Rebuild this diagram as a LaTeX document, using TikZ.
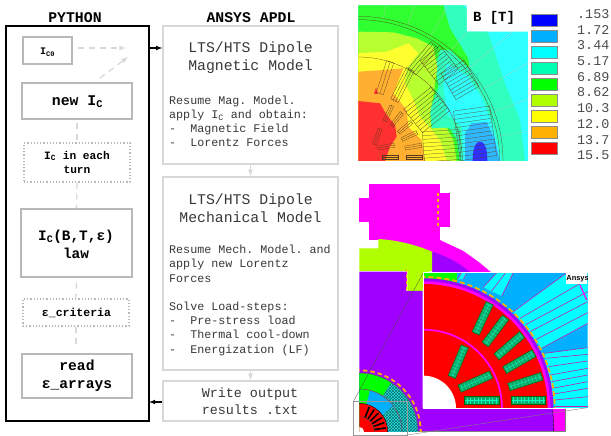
\documentclass[tikz,border=0pt]{standalone}
\usepackage{fontspec}
\setmainfont{Liberation Mono}
\newfontfamily\logofont{Liberation Sans}
\frenchspacing
\usetikzlibrary{patterns}
\definecolor{pybox}{HTML}{B8B8B8}
\definecolor{apdlbox}{HTML}{D8D8D8}
\definecolor{apdltext}{HTML}{383838}
\definecolor{bblue}{HTML}{3030FF}
\definecolor{bsky}{HTML}{30B8FF}
\definecolor{bcyan}{HTML}{30FFFF}
\definecolor{bteal}{HTML}{30FFC0}
\definecolor{bgreen}{HTML}{30FF30}
\definecolor{blime}{HTML}{B8FF30}
\definecolor{byellow}{HTML}{FFFF30}
\definecolor{borange}{HTML}{FFB030}
\definecolor{bred}{HTML}{FF3030}
\definecolor{keyblue}{HTML}{0000FF}
\definecolor{keycyan}{HTML}{00FFFF}
\definecolor{keyteal}{HTML}{00FFB0}
\definecolor{keygreen}{HTML}{00FF00}
\definecolor{keyyellow}{HTML}{FFFF00}
\definecolor{keyred}{HTML}{FF0000}
\definecolor{feapurple}{HTML}{A000FF}
\definecolor{feamagenta}{HTML}{FF00FF}
\definecolor{fealime}{HTML}{B0FF00}
\definecolor{feasky}{HTML}{00B0FF}
\definecolor{feadash}{HTML}{FFB000}
\definecolor{feastrand}{HTML}{C020B0}
\definecolor{feacoil}{HTML}{10A868}
\definecolor{feamesh}{HTML}{30E0E0}
\definecolor{feamline}{HTML}{007070}
\tikzset{
  sizedfont/.style={font=\fontsize{#1}{#1}\selectfont},
  pystep/.style={draw=pybox,line width=1.5pt,fill=white,inner sep=0pt},
  pydot/.style={draw=pybox,line width=1.2pt,dotted,fill=white,inner sep=0pt},
  pytext/.style={align=center,inner sep=0pt,text=black},
  apdlstep/.style={draw=apdlbox,line width=1.5pt,fill=white,inner sep=0pt},
  flowdash/.style={draw=apdlbox,line width=1.3pt,dash pattern=on 6pt off 5pt},
  flowlink/.style={draw=apdlbox,line width=1.3pt,-latex},
  flowmain/.style={draw=black,line width=1.1pt,-latex},
  fieldline/.style={draw=black!55!brown,line width=0.25pt},
  coilgrid/.style={draw=keycyan!75!green,line width=0.35pt},
  legendbox/.style={draw=black!45,line width=0.8pt,minimum width=26pt,minimum height=12pt,inner sep=0pt},
  legendtext/.style={sizedfont=13.4,text=black!70,anchor=west,inner sep=0pt},
}
\begin{document}
\begin{tikzpicture}[x=1pt,y=-1pt]
\useasboundingbox (0,0) rectangle (611,436);

% python column
\node[font=\fontsize{14.8}{15}\selectfont\bfseries,inner sep=0pt] (pytitle) at (75,18) {PYTHON};
\node[draw=black,line width=1.5pt,minimum width=143pt,minimum height=395pt,inner sep=0pt] (pyframe) at (77.5,223.5) {};
\node[pystep,minimum width=49pt,minimum height=27pt] (icbox) at (47.5,50.5) {};
\node[pytext,font=\fontsize{10}{10}\selectfont\bfseries] (ictext) at (47.5,52) {I\textsubscript{C0}};
\node[pystep,minimum width=110pt,minimum height=36pt] (newbox) at (77,101) {};
\node[pytext,font=\fontsize{14.8}{15}\selectfont\bfseries] (newtext) at (77.5,102) {new I\textsubscript{C}};
\node[pydot,minimum width=106pt,minimum height=39pt] (turnbox) at (77,162.5) {};
\node[pytext,font=\fontsize{11.2}{14}\selectfont\bfseries] (turntext) at (77,162) {I\textsubscript{C} in each\\turn};
\node[pystep,minimum width=111pt,minimum height=68pt] (lawbox) at (76.5,243) {};
\node[pytext,font=\fontsize{14.4}{18}\selectfont\bfseries] (lawtext) at (76,244) {I\textsubscript{C}(B,T,ε)\\law};
\node[pydot,minimum width=106pt,minimum height=27pt] (critbox) at (76,312.5) {};
\node[pytext,font=\fontsize{11.5}{12}\selectfont\bfseries] (crittext) at (76.5,313) {ε\_criteria};
\node[pystep,minimum width=110pt,minimum height=44pt] (readbox) at (77,376) {};
\node[pytext,font=\fontsize{14.6}{18}\selectfont\bfseries] (readtext) at (77,376) {read\\ε\_arrays};

\coordinate (freeone) at (126,48);
\coordinate (freetwo) at (128,57);
\coordinate (newtop) at (100,78);
\draw[flowdash,-latex] (icbox.east |- freeone) ++(5,0) -- (freeone);
\draw[flowdash,-latex] (newtop) -- (freetwo);
\draw[flowdash] (newbox.south) ++(0,3) -- (turnbox.north);
\draw[flowdash] (turnbox.south) -- (lawbox.north);
\draw[flowdash] (lawbox.south) ++(0,5) -- (critbox.north);
\draw[flowdash] (critbox.south) -- ++(0,22);

% ansys column
\node[font=\fontsize{14.8}{15}\selectfont\bfseries,inner sep=0pt] (apdltitle) at (251,18) {ANSYS APDL};
\node[apdlstep,minimum width=175pt,minimum height=138pt] (magbox) at (250.5,95) {};
\node[apdlstep,minimum width=175pt,minimum height=193pt] (mechbox) at (250.5,273.5) {};
\node[apdlstep,minimum width=175pt,minimum height=40pt] (outbox) at (250.5,401) {};
\node[font=\fontsize{14.8}{18}\selectfont,align=center,text=apdltext,inner sep=0pt] (magtitle) at (250.5,58) {LTS/HTS Dipole\\Magnetic Model};
\node[font=\fontsize{11.7}{14}\selectfont,align=left,text=apdltext,inner sep=0pt,anchor=north west] (magbody) at (169,96) {Resume Mag. Model.\\apply I\textsubscript{C} and obtain:\\-\ \ Magnetic Field\\-\ \ Lorentz Forces};
\node[font=\fontsize{14.8}{18}\selectfont,align=center,text=apdltext,inner sep=0pt] (mechtitle) at (250.5,208) {LTS/HTS Dipole\\Mechanical Model};
\node[font=\fontsize{11.7}{14.2}\selectfont,align=left,text=apdltext,inner sep=0pt,anchor=north west] (mechbody) at (169,245) {Resume Mech. Model. and\\apply new Lorentz\\Forces\\[14.2pt]Solve Load-steps:\\-\ \ Pre-stress load\\-\ \ Thermal cool-down\\-\ \ Energization (LF)};
\node[font=\fontsize{13.4}{17}\selectfont,align=center,text=apdltext,inner sep=0pt] (outtext) at (250,401.5) {Write output\\results .txt};

\coordinate (pyout) at (149,48);
\coordinate (pyin) at (149,402);
\draw[flowmain] (pyout) -- (magbox.west |- pyout);
\draw[flowmain] (outbox.west |- pyin) -- (pyin);
\draw[flowlink] (magbox.south) -- (mechbox.north);
\draw[flowlink] (mechbox.south) -- (outbox.north);

% field map
\begin{scope}[shift={(350,0)},scale=1/3]
  \clip (25,16) -- (350,16) -- (350,95) -- (535,95) -- (535,483) -- (25,483) -- cycle;
  \fill[bcyan] (25,16) rectangle (535,483);
  \fill[bteal] (25,16) -- (340,16) -- (415,100) -- (465,250) -- (510,360) -- (525,483) -- (25,483) -- cycle;
  \fill[bgreen] (25,16) -- (280,16) -- (300,85) -- (355,175) -- (358,205) -- (300,150) -- (270,150) -- (255,200) -- (265,260) -- (240,330) -- (245,385) -- (300,385) -- (320,420) -- (330,483) -- (25,483) -- cycle;
  \fill[bteal] (300,165) -- (355,215) -- (405,290) -- (440,400) -- (470,483) -- (330,483) -- (325,400) -- (270,350) -- (285,250) -- cycle;
  \fill[bcyan] (290,190) -- (350,225) -- (395,290) -- (430,380) -- (455,483) -- (340,483) -- (335,380) -- (290,340) -- (280,260) -- cycle;
  \fill[bsky] (365,370) -- (410,365) -- (435,420) -- (450,483) -- (345,483) -- (345,400) -- cycle;
  \fill[bblue] (368,483) .. controls (368,440) and (378,425) .. (390,425) .. controls (402,425) and (412,440) .. (412,483) -- cycle;
  \fill[blime] (25,95) -- (130,97) -- (200,115) -- (250,140) -- (262,200) -- (250,290) -- (240,340) -- (245,385) -- (290,383) -- (310,420) -- (320,483) -- (25,483) -- cycle;
  \fill[byellow] (25,160) -- (110,155) -- (175,130) -- (205,160) -- (170,205) -- (165,250) -- (190,300) -- (210,350) -- (240,385) -- (270,420) -- (290,483) -- (25,483) -- cycle;
  \fill[blime] (180,220) -- (225,240) -- (250,275) -- (215,290) -- (180,270) -- cycle;
  \fill[borange] (25,215) -- (100,210) -- (160,205) -- (130,280) -- (170,330) -- (175,380) -- (215,420) -- (225,483) -- (25,483) -- cycle;
  \fill[bred] (25,303) -- (90,310) -- (110,345) -- (135,375) -- (140,410) -- (120,440) -- (105,483) -- (25,483) -- cycle;
  \fill[bred] (72,282) -- (78,262) -- (84,282) -- cycle;
  \foreach \ang in {-10,-20,...,-80}
    \draw[black!25,line width=0.2pt] (25,483) ++(\ang:434) -- ++(\ang:260);
  \draw[fieldline] (25,483) circle (434);
  \draw[fieldline] (25,483) circle (424);
  \draw[fieldline] (25,483) circle (312);
  \foreach \cx/\cy/\rot/\len/\hgt/\num in {105/233/72/100/22/1, 157/255/63/105/25/2, 220/175/50/105/30/2, 268/195/38/75/90/7, 330/240/30/80/90/7, 230/330/39/105/90/7, 275/437/4/110/90/7, 375/400/8/110/150/11, 115/340/65/50/12/1, 140/358/52/50/12/1, 165/382/40/50/12/1, 178/408/25/50/12/1, 190/440/10/50/12/1, 192/470/0/50/12/1, 120/470/0/50/12/1, 108/440/10/50/12/1, 82/410/70/50/12/1}{
    \begin{scope}[shift={(\cx,\cy)},rotate=\rot]
      \draw[fieldline] (-\len/2,-\hgt/2) rectangle (\len/2,\hgt/2);
      \foreach \k in {1,...,\num}
        \draw[fieldline] (-\len/2,{-\hgt/2+\hgt*\k/(\num+1)}) -- (\len/2,{-\hgt/2+\hgt*\k/(\num+1)});
    \end{scope}}
\end{scope}
\node[font=\fontsize{14}{15}\selectfont\bfseries,inner sep=0pt] (fieldunit) at (494,18) {B [T]};

% legend
\foreach \row/\col/\val in {0/keyblue/.153, 1/feasky/1.72, 2/keycyan/3.44, 3/keyteal/5.17, 4/keygreen/6.89, 5/fealime/8.62, 6/keyyellow/10.3, 7/feadash/12.0, 8/keyred/13.7}{
  \node[legendbox,fill=\col] (key\row) at (544.5,{20+16*\row}) {};
  \node[legendtext] (val\row) at (577,{14+15.7*\row}) {\val};
}
\node[legendtext] (val9) at (577,155) {15.5};

% mechanical model
\begin{scope}[shift={(350,180)},scale=1/3]
  \fill[feamagenta] (58,13) rectangle (270,180);
  \fill[feamagenta] (28,55) rectangle (58,127);
  \fill[feamagenta] (270,40) rectangle (299,142);
  \fill[feamagenta] (85,177) -- (270,180) -- (340,213) -- (385,245) -- (425,278) -- (360,278) -- cycle;
  \fill[feapurple] (246,215) .. controls (290,228) and (330,250) .. (362,278) -- (246,278) -- cycle;
  \fill[fealime] (28,205) -- (85,205) -- (85,177) .. controls (140,180) and (200,195) .. (246,215) -- (246,273) -- (220,278) -- (218,333) -- (172,333) -- (172,273) -- (28,273) -- cycle;
  \fill[feapurple] (28,275) -- (168,275) -- (168,333) -- (218,333) -- (218,685) -- (608,685) -- (612,755) -- (28,755) -- cycle;
  \fill[feamagenta] (608,685) -- (647,685) -- (647,755) -- (612,755) -- cycle;
  \draw[black!50,line width=0.4pt] (28,755) -- (647,755) -- (647,685);
  \draw[black,line width=0.4pt] (608,685) -- (612,755);
  \draw[feadash,line width=2pt,dash pattern=on 3.5pt off 2.5pt] (265,38) -- (265,145);
  \draw[feamagenta,line width=1.5pt] (170,268) -- (170,330);
  \draw[feadash,line width=1.5pt,dash pattern=on 3pt off 3pt] (170,268) -- (170,330);

  % close-up
  \begin{scope}
    \clip (220,278) rectangle (713,685);
    \fill[feasky] (220,278) rectangle (713,685);
    \fill[keygreen] (220,278) -- (322,278) -- (322,310) -- (220,310) -- cycle;
    \fill[keycyan] (322,298) -- (335,278) -- (350,278) -- (340,298) -- cycle;
    \fill[keycyan] (400,322) -- (440,278) -- (490,278) -- (455,348) -- cycle;
    \fill[keycyan] (490,395) -- (648,280) -- (713,280) -- (713,430) -- (575,505) -- cycle;
    \fill[keycyan] (583,520) -- (713,503) -- (713,685) -- (615,685) -- cycle;
    \foreach \ax/\ay/\bx/\by in {322/298/335/278, 340/298/350/278, 400/322/440/278, 425/333/467/278, 455/348/490/278, 490/395/648/280, 510/415/700/305, 525/435/713/335, 540/455/713/365, 555/480/713/398, 575/505/713/430, 583/520/713/503, 588/535/713/523, 595/560/713/543, 600/585/713/565, 605/605/713/585, 608/625/713/605, 612/642/713/625, 615/660/713/650, 615/680/713/680}
      \draw[feastrand,line width=0.6pt] (\ax,\ay) -- (\bx,\by);
    \draw[feamagenta,line width=1.2pt] (690,315) -- (710,360);
    \fill[feapurple] (220,685) circle (390);
    \fill[feamagenta] (220,685) circle (381);
    \fill[keyred] (220,685) circle (373);
    \draw[feamagenta,line width=1.7pt] (220,685) circle (236);
    \fill[white] (220,685) circle (98);
    \draw[feadash,line width=1.8pt,dash pattern=on 5pt off 3pt] (220,685) circle (394);
    \foreach \cx/\cy/\rot/\len in {398/415/65/100, 436/453/53/102, 478/497/41/102, 508/545/30/102, 526/605/18/104, 535/660/0/104, 325/545/67/100, 376/605/24/104, 395/662/0/104}{
      \begin{scope}[shift={(\cx,\cy)},rotate=\rot]
        \draw[fill=feacoil,draw=green!40!black,line width=0.4pt] (-\len/2,-12) rectangle (\len/2,12);
        \foreach \u in {-44,-33,...,44}
          \draw[coilgrid] (\u,-9) -- (\u,9);
        \draw[coilgrid] (-\len/2+3,0) -- (\len/2-3,0);
      \end{scope}}
    \node[fill=white,anchor=north east,inner xsep=0pt,inner ysep=1pt,text width=21pt,minimum height=11pt,text=black,font=\logofont\bfseries\fontsize{7.4}{8}\selectfont] (logo) at (713,279) {Ansys};
  \end{scope}
  \draw[white,line width=0.9pt] (713,278) -- (220,278) -- (220,685) -- (713,685);

  % full cross-section
  \begin{scope}
    \clip (28,755) -- (28,560) -- (225,560) -- (225,755) -- cycle;
    \fill[feamesh] (28,755) circle (176);
    \fill[pattern=crosshatch,pattern color=feamline] (28,755) circle (176);
    \begin{scope}
      \clip (28,755) circle (176);
      \fill[keygreen] (28,755) -- (28,458) -- (220,458) -- cycle;
    \end{scope}
    \draw[black!60!magenta,line width=0.5pt] (28,755) circle (176);
    \fill[feasky] (28,755) circle (128);
    \begin{scope}
      \clip (28,755) circle (128);
      \fill[keygreen] (28,755) -- (28,458) -- (104,458) -- cycle;
      \fill[feamesh] (28,755) -- (180,640) -- (180,755) -- cycle;
      \fill[pattern=crosshatch,pattern color=feamline] (28,755) -- (180,640) -- (180,755) -- cycle;
    \end{scope}
    \draw[black!60!magenta,line width=0.6pt] (28,755) circle (128);
    \fill[keyred] (28,755) circle (85);
    \foreach \ang in {-8,-20,...,-76}
      \draw[black,line width=1.6pt] (28,755) ++(\ang:45) -- ++(\ang:35);
    \draw[black,line width=0.4pt] (28,755) circle (85);
    \draw[black!70,line width=0.5pt] (28,755) circle (45);
    \fill[white] (28,755) circle (14);
    \draw[feadash,line width=1.8pt,dash pattern=on 4.5pt off 3pt] (28,755) circle (184);
  \end{scope}
  \draw[black!40,line width=0.4pt] (10,665) rectangle (172,765);
  \draw[black!70,line width=0.3pt] (10,665) -- (220,278);
  \draw[black!50,line width=0.4pt] (172,765) -- (713,683);
\end{scope}
\end{tikzpicture}
\end{document}
